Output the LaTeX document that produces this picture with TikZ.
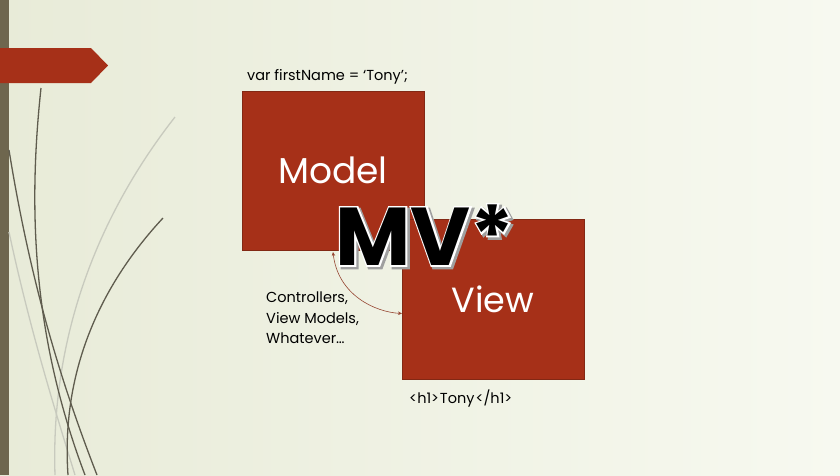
\documentclass[tikz,border=0pt]{standalone}
\usepackage{fontspec}
\setmainfont{Poppins}
\newfontfamily\mvhalofont{Poppins}[BoldFeatures={FakeBold=4}]
\newfontfamily\mvshadowfont{Poppins}[BoldFeatures={FakeBold=5}]
\usetikzlibrary{arrows.meta}
\definecolor{slidered}{RGB}{166,48,24}
\definecolor{boxedge}{RGB}{130,40,20}
\definecolor{barbrown}{RGB}{110,102,78}
\definecolor{vine}{RGB}{95,92,78}
\definecolor{vinefaint}{RGB}{200,202,190}
\definecolor{linkred}{RGB}{150,70,50}
\definecolor{bgleft}{RGB}{232,235,216}
\definecolor{bgright}{RGB}{247,249,240}
\tikzset{
  conceptbox/.style={draw=boxedge, line width=0.6pt, fill=slidered,
    minimum width=182pt, minimum height=160pt, inner sep=0pt,
    text=white, font=\fontsize{36}{40}\selectfont},
  plaintext/.style={anchor=base west, inner sep=0pt, text=black,
    font=\fontsize{14.5}{20.5}\selectfont, align=left},
  vinestroke/.style={draw=vine, line width=1.3pt},
  vinelight/.style={draw=vinefaint, line width=1.3pt},
  link/.style={draw=linkred, line width=0.6pt,
    {Stealth[length=4pt,width=3.5pt]}-{Stealth[length=4pt,width=3.5pt]}},
  mvtext/.style={inner sep=0pt, font=\fontsize{82}{82}\selectfont\bfseries}
}
\begin{document}
\begin{tikzpicture}[x=1pt,y=-1pt]
  % slide background
  \shade[left color=bgleft, right color=bgright] (0,0) rectangle (840,475);
  \useasboundingbox (0,0) rectangle (840,475);
  % left bar and title banner
  \fill[barbrown] (0,0) rectangle (9,475);
  \fill[slidered] (0,48) -- (91,48) -- (108,65.5) -- (91,83) -- (0,83) -- cycle;
  % decorative vines
  \draw[vinelight] (175,117) .. controls (110,200) and (50,320) .. (55,475);
  \draw[vinelight] (9,232) .. controls (30,330) and (55,410) .. (75,475);
  \draw[vinestroke] (41,88) .. controls (29,200) and (30,330) .. (85,475);
  \draw[vinestroke] (9,150) .. controls (30,280) and (60,380) .. (97,475);
  \draw[vinestroke] (163,218) .. controls (110,275) and (60,360) .. (68,475);
  % model and view boxes
  \node[conceptbox, minimum height=159pt] (model) at (333,170.5) {Model};
  \node[conceptbox, font=\fontsize{35}{40}\selectfont] (view) at (493,299) {View};
  % texts
  \node[plaintext] (modelcode) at (247,80) {var firstName = ‘Tony’;};
  \node[plaintext, anchor=north west] (glue) at (266,292) {Controllers,\\View Models,\\Whatever…};
  \node[plaintext] (viewcode) at (409,403) {<h1>\kern1ptTony\kern1pt</h1>};
  % link between model and view
  \coordinate (linkm) at (333,252);
  \coordinate (linkv) at (402,313.5);
  \draw[link] (linkm) .. controls (338,295) and (375,312) .. (linkv);
  % MV* title: emboldened shadow and halo behind the black letters
  \node[mvtext, text=gray!75, font=\fontsize{82}{82}\mvshadowfont\bfseries] (mvshadow) at (427,237) {MV*};
  \node[mvtext, text=white, font=\fontsize{82}{82}\mvhalofont\bfseries] (mvhalo) at (425,235) {MV*};
  \node[mvtext, text=black] (mv) at (425,235) {MV*};
\end{tikzpicture}
\end{document}
